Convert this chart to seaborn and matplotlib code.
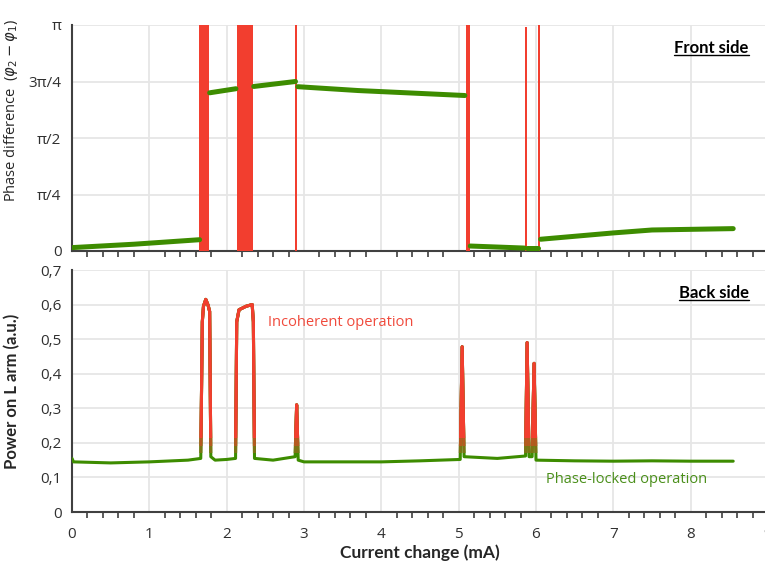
"""
Phase difference / output power vs. current change (front and back side).
"""

import numpy as np
import pandas as pd
import matplotlib
matplotlib.use("Agg")
import matplotlib.pyplot as plt
from matplotlib.patches import Rectangle
from matplotlib.lines import Line2D
from matplotlib.ticker import FixedLocator, MultipleLocator
import seaborn as sns

# ── Data ────────────────────────────────────────────────────
# top panel: phase difference in units of pi, green (phase-locked) segments
phase_seg = [0, 0, 0, 1, 1, 2, 2, 3, 3, 3, 4, 4, 5, 5, 6, 6, 6, 6]
phase_x   = [0.00, 0.80, 1.65, 1.78, 2.12, 2.35, 2.89, 2.92, 3.70, 5.08,
             5.15, 5.85, 5.89, 6.02, 6.06, 7.00, 7.50, 8.55]
phase_y   = [0.015, 0.030, 0.050, 0.700, 0.718, 0.728, 0.750, 0.727, 0.710,
             0.688, 0.022, 0.013, 0.012, 0.012, 0.052, 0.080, 0.093, 0.099]

# top panel: incoherent regions (phase jumps across the full range)
red_start = [1.645, 2.135, 2.886, 5.093, 5.856, 6.022]
red_end   = [1.775, 2.340, 2.914, 5.150, 5.886, 6.056]
red_top   = [1.0, 1.0, 1.0, 1.0, 0.99, 1.0]

# bottom panel: power on L arm
power_x = [0.00, 0.02, 0.50, 1.00, 1.50, 1.665, 1.685, 1.70, 1.73, 1.76, 1.78,
           1.795, 1.85, 2.00, 2.115, 2.13, 2.16, 2.25, 2.33, 2.345, 2.36,
           2.60, 2.885, 2.905, 2.925, 3.00, 3.50, 4.00, 4.50, 5.02, 5.045,
           5.07, 5.50, 5.865, 5.885, 5.91, 5.95, 5.975, 6.00, 6.50, 7.00,
           7.50, 8.00, 8.55]
power_y = [0.155, 0.145, 0.142, 0.145, 0.150, 0.155, 0.550, 0.595, 0.615,
           0.598, 0.580, 0.160, 0.150, 0.152, 0.155, 0.550, 0.585, 0.595,
           0.600, 0.550, 0.155, 0.150, 0.160, 0.310, 0.150, 0.145, 0.145,
           0.145, 0.148, 0.152, 0.478, 0.160, 0.155, 0.162, 0.490, 0.160,
           0.160, 0.430, 0.150, 0.148, 0.147, 0.148, 0.147, 0.147]

phase_ticks  = [0, 0.25, 0.5, 0.75, 1.0]
phase_labels = ["0", "π/4", "π/2", "3π/4", "π"]
power_ticks  = [0, 0.1, 0.2, 0.3, 0.4, 0.5, 0.6, 0.7]
power_labels = ["0", "0,1", "0,2", "0,3", "0,4", "0,5", "0,6", "0,7"]
x_ticks = list(range(10))

GREEN = "#3d8c00"
RED   = "#f23e2f"
AXIS  = "#404040"
GRID  = "#e6e6e6"

sns.set_theme(style="white")
plt.rcParams["font.family"] = ["Open Sans", "DejaVu Sans"]
plt.rcParams["mathtext.fontset"] = "dejavusans"

W, H = 765, 566
fig = plt.figure(figsize=(W / 100, H / 100), dpi=100)
left, right = 72, 768
ax1 = fig.add_axes([left / W, 1 - 251 / H, (right - left) / W, 226 / H])
ax2 = fig.add_axes([left / W, 1 - 512 / H, (right - left) / W, 242 / H])

# ── Top panel ───────────────────────────────────────────────
for s, e, t in zip(red_start, red_end, red_top):
    ax1.fill_betweenx([0, t], s, e, color=RED, lw=0, zorder=3)

df_phase = pd.DataFrame({"x": phase_x, "y": phase_y, "seg": phase_seg})
sns.lineplot(data=df_phase, x="x", y="y", units="seg", estimator=None,
             color=GREEN, lw=3.6, ax=ax1, zorder=4)
ax1.set_ylim(0, 1)
ax1.yaxis.set_major_locator(FixedLocator(phase_ticks))
ax1.set_yticklabels(phase_labels)
ax1.set_ylabel(r"Phase difference  ($\varphi_2 - \varphi_1$)", fontsize=10.5)
ax1.yaxis.set_label_coords(-0.075, 0.62)
ax1.set_xlabel("")
ax1.tick_params(axis="x", labelbottom=False)

# ── Bottom panel ────────────────────────────────────────────
df_power = pd.DataFrame({"x": power_x, "y": power_y})
# green -> red blend by power level
blend = [(0.0, GREEN), (0.17, "#7b7414"), (0.19, "#b45a1f"), (0.215, RED)]
for lo, col in blend:
    sns.lineplot(data=df_power, x="x", y="y", estimator=None, sort=False,
                 color=col, lw=2.2, ax=ax2, zorder=4)
    clip = Rectangle((0, lo), 10, 1, transform=ax2.transData)
    ax2.lines[-1].set_clip_path(clip)

ax2.set_ylim(0, 0.7)
ax2.yaxis.set_major_locator(FixedLocator(power_ticks))
ax2.set_yticklabels(power_labels)
ax2.set_ylabel("Power on L arm (a.u.)", fontsize=12, fontweight="bold",
               family=["Lato", "DejaVu Sans"])
ax2.yaxis.set_label_coords(-0.075, 0.5)
ax2.set_xlabel("Current change (mA)", fontsize=12.5, fontweight="bold",
               family=["Lato", "DejaVu Sans"], labelpad=2)

ax2.text(2.54, 0.547, "Incoherent operation", color="#f04a3c",
         fontsize=10.5, va="center", ha="left")
ax2.text(6.13, 0.093, "Phase-locked operation", color="#4a8f1a",
         fontsize=10.5, va="center", ha="left")

# ── Shared axis styling ─────────────────────────────────────
for ax in (ax1, ax2):
    ax.set_xlim(0, 9)
    ax.xaxis.set_major_locator(FixedLocator(x_ticks))
    ax.xaxis.set_minor_locator(MultipleLocator(0.2))
    ax.grid(True, which="major", color=GRID, lw=1.3, zorder=0)
    ax.set_axisbelow(True)
    for side in ("top", "right"):
        ax.spines[side].set_visible(False)
    for side in ("left", "bottom"):
        ax.spines[side].set_color(AXIS)
        ax.spines[side].set_linewidth(1.5)
    ax.tick_params(which="major", direction="inout", length=9, width=1.5,
                   color=AXIS, labelsize=11, labelcolor="#303030", pad=3)
    ax.tick_params(axis="x", which="minor", direction="out", length=4,
                   width=1.2, color=AXIS, bottom=True)
    ax.tick_params(axis="x", which="major", pad=6)

# side labels with underline
labels = [(ax1, "Front side", 0.898), (ax2, "Back side", 0.633)]
texts = []
for ax, txt, yv in labels:
    t = ax.text(8.75, yv, txt, fontsize=12, fontweight="bold",
                family=["Lato", "DejaVu Sans"], ha="right", va="center",
                color="black")
    texts.append(t)

fig.canvas.draw()
inv = fig.transFigure.inverted()
for t in texts:
    bb = t.get_window_extent()
    (x0, y0), (x1, _) = inv.transform([(bb.x0, bb.y0 + 1), (bb.x1, bb.y0 + 1)])
    fig.add_artist(Line2D([x0, x1], [y0, y0], color="black", lw=1.0,
                          transform=fig.transFigure))

fig.savefig("out.png", dpi=100)
